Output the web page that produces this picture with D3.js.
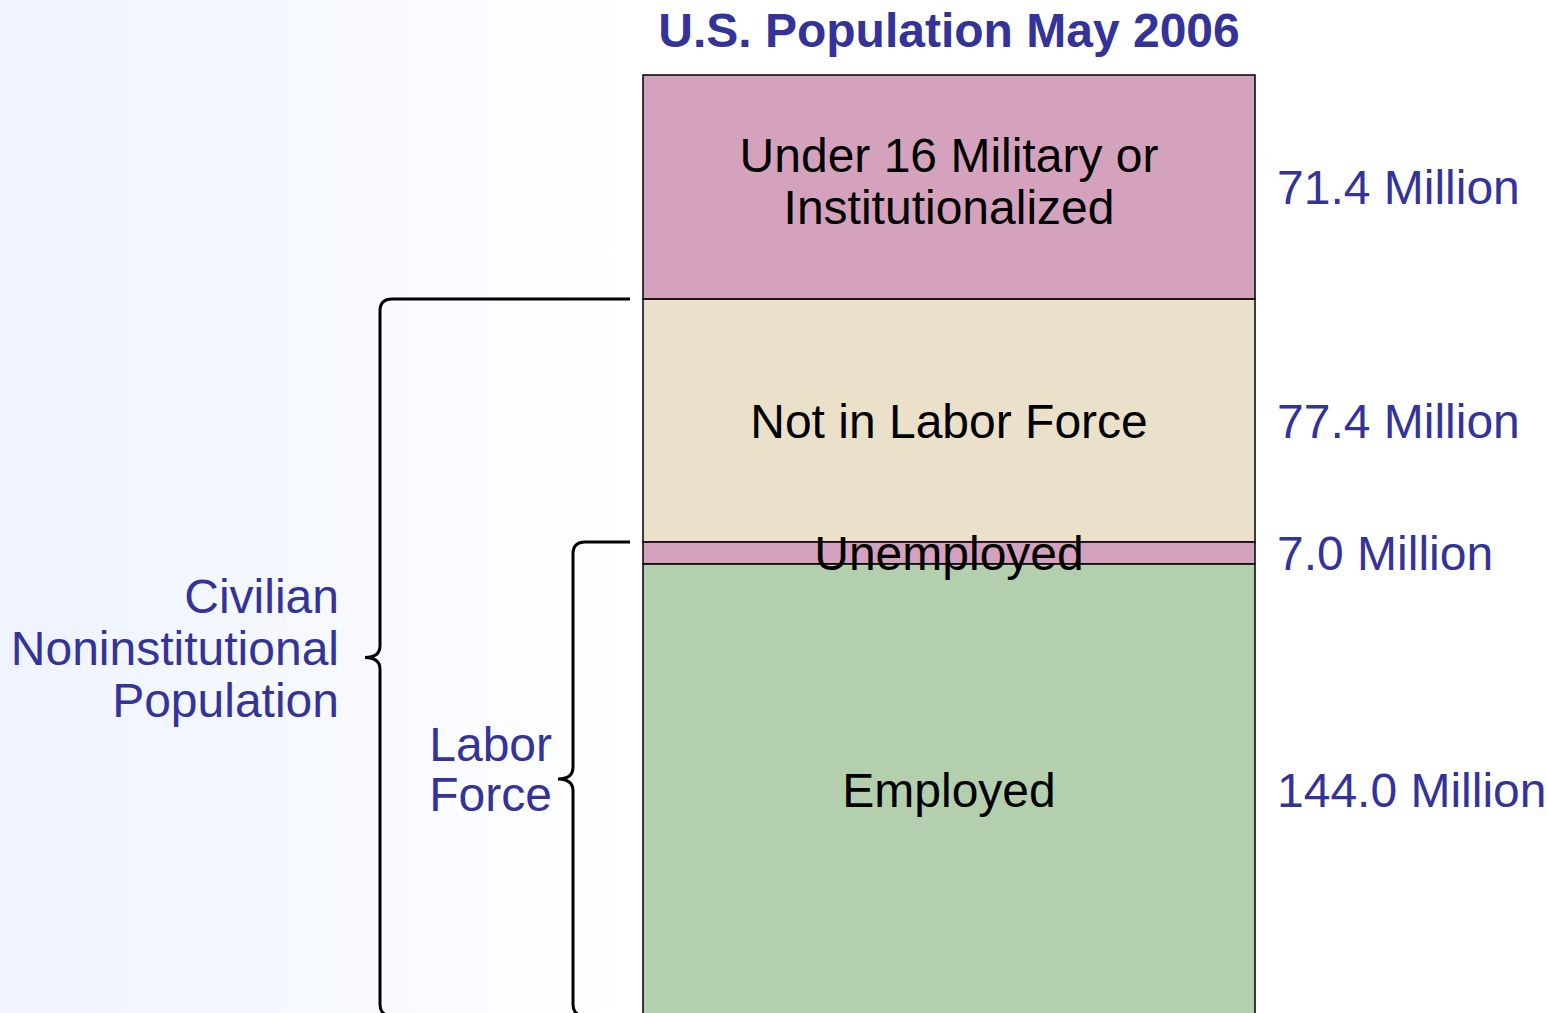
<html>
<head>
  <script src="https://d3js.org/d3.v7.min.js"></script>
  <style>
  body { margin: 0; overflow: hidden; }
  text { font-family: "Liberation Sans", Arial, sans-serif; }
  </style>
</head>
<body>
  <svg width="1547" height="1013"></svg>

<script>
// stacked population bar, top to bottom
var categories = ["Under 16 Military or Institutionalized", "Not in Labor Force", "Unemployed", "Employed"];
var labelLines = [["Under 16 Military or", "Institutionalized"], ["Not in Labor Force"], ["Unemployed"], ["Employed"]];
var values = [71.4, 77.4, 7.0, 144.0];
var valueLabels = ["71.4 Million", "77.4 Million", "7.0 Million", "144.0 Million"];
var colors = ["#d4a2bc", "#ebe0ca", "#d4a2bc", "#b4cfae"];
var title = "U.S. Population May 2006";

// groups shown with braces: [first segment, last segment]
var groups = [
  {name: ["Civilian", "Noninstitutional", "Population"], from: 1, to: 3},
  {name: ["Labor", "Force"], from: 2, to: 3}
];

var svg = d3.select("svg");
var W = +svg.attr("width");
var blue = "#333399";
var fs = 48;

var grad = svg.append("defs").append("linearGradient").attr("id", "bg");
grad.append("stop").attr("offset", "0%").attr("stop-color", "#eef3fe");
grad.append("stop").attr("offset", "42%").attr("stop-color", "#ffffff");
svg.append("rect").attr("width", W).attr("height", 1013).attr("fill", "url(#bg)");

var starts = [];
var acc = 0;
values.forEach(function(v){ starts.push(acc); acc += v; });
var total = acc;

var y = d3.scaleLinear().domain([0, total]).range([75, 1016]);
var x = d3.scaleBand().domain(["pop"]).range([643, 1255]);
var cx = x("pop") + x.bandwidth() / 2;

svg.append("text")
  .attr("x", cx).attr("y", 47)
  .attr("text-anchor", "middle")
  .attr("font-size", fs).attr("font-weight", "bold")
  .attr("fill", blue)
  .text(title);

svg.selectAll("rect.seg").data(values).enter().append("rect")
  .attr("class", "seg")
  .attr("x", x("pop"))
  .attr("width", x.bandwidth())
  .attr("y", function(d, i){ return y(starts[i]); })
  .attr("height", function(d, i){ return y(starts[i] + d) - y(starts[i]); })
  .attr("fill", function(d, i){ return colors[i]; })
  .attr("stroke", "#000").attr("stroke-width", 1.5);

function mid(i){ return (y(starts[i]) + y(starts[i] + values[i])) / 2; }

// labels drawn after all rects so they sit on top
values.forEach(function(d, i){
  var lines = labelLines[i];
  var first = lines.length > 1 ? mid(i) - 15 : mid(i) + 17;
  lines.forEach(function(l, j){
    svg.append("text")
      .attr("x", cx)
      .attr("y", first + j * 52)
      .attr("text-anchor", "middle")
      .attr("font-size", fs).attr("fill", "#000")
      .text(l);
  });
  svg.append("text")
    .attr("x", x("pop") + x.bandwidth() + 22)
    .attr("y", mid(i) + 17)
    .attr("font-size", fs).attr("fill", blue)
    .text(valueLabels[i]);
});

// curly brace: vertical at bx, from y0 to y1, tip pointing left
function brace(bx, y0, y1, xr){
  var r = 12, ym = (y0 + y1) / 2;
  return "M" + xr + "," + y0 + " H" + (bx + r) +
    " Q" + bx + "," + y0 + " " + bx + "," + (y0 + r) +
    " V" + (ym - 12) +
    " Q" + bx + "," + ym + " " + (bx - 15) + "," + ym +
    " Q" + bx + "," + ym + " " + bx + "," + (ym + 12) +
    " V" + (y1 - r) +
    " Q" + bx + "," + y1 + " " + (bx + r) + "," + y1 +
    " H" + xr;
}

var braceX = [380, 573];
var textX = [339, 552];
var lineGap = [52, 50];

groups.forEach(function(grp, k){
  var y0 = y(starts[grp.from]);
  var y1 = y(starts[grp.to] + values[grp.to]);
  var ym = (y0 + y1) / 2;
  svg.append("path")
    .attr("d", brace(braceX[k], y0, y1, 630))
    .attr("fill", "none").attr("stroke", "#000").attr("stroke-width", 3);
  var n = grp.name.length;
  grp.name.forEach(function(l, j){
    svg.append("text")
      .attr("x", textX[k])
      .attr("y", ym + 7 + (j - (n - 1) / 2) * lineGap[k])
      .attr("text-anchor", "end")
      .attr("font-size", fs).attr("fill", blue)
      .text(l);
  });
});
</script>
</body></html>
